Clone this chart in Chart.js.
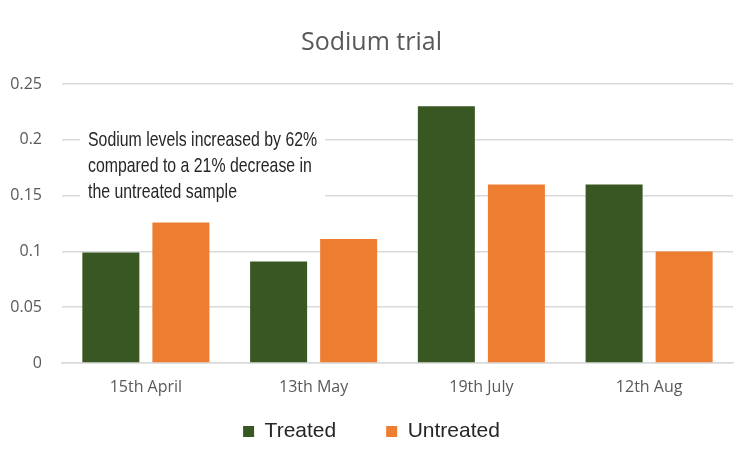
<!DOCTYPE html>
<html lang="en">
  <head>
    <meta charset="UTF-8" />
    <title>Sodium trial</title>
    <style>
      html, body { margin: 0; padding: 0; background: #fff; }
      .wrap { width: 745px; height: 456px; }
    </style>
  </head>
  <body>
    <div class="wrap"><canvas id="mychart"></canvas></div>

    <script src="https://cdn.jsdelivr.net/npm/chart.js@4/dist/chart.umd.min.js"></script>
    <script>
      // data
      const dates = ["15th April", "13th May", "19th July", "12th Aug"];
      const treated = [0.099, 0.091, 0.23, 0.16];
      const untreated = [0.126, 0.111, 0.16, 0.1];
      const note = ["Sodium levels increased by 62%", "compared to a 21% decrease in", "the untreated sample"];

      // text box drawn over the grid (white fill hides the gridlines behind it)
      const notePlugin = {
        id: "note",
        afterDatasetsDraw(chart) {
          const ctx = chart.ctx;
          const x = chart.scales.x;
          const y = chart.scales.y;
          const left = x.left + 26;
          const top = y.getPixelForValue(0.2) - 10;
          ctx.save();
          ctx.fillStyle = "#fff";
          ctx.fillRect(left - 8, top - 5, 245, 83);
          ctx.fillStyle = "#262626";
          ctx.font = "21px 'Liberation Sans', Arial, sans-serif";
          ctx.textBaseline = "top";
          ctx.translate(left, top);
          ctx.scale(0.755, 1);
          note.forEach((t, i) => ctx.fillText(t, 0, i * 26));
          ctx.restore();
        },
      };

      new Chart(document.getElementById("mychart"), {
        type: "bar",
        data: {
          labels: dates,
          datasets: [
            { label: "Treated", data: treated, backgroundColor: "#385723" },
            { label: "Untreated", data: untreated, backgroundColor: "#ed7d31" },
          ],
        },
        options: {
          responsive: true,
          maintainAspectRatio: false,
          animation: false,
          categoryPercentage: 0.835,
          barPercentage: 0.814,
          layout: { padding: { left: 10, right: 12, top: 0, bottom: 4 } },
          plugins: {
            title: {
              display: true,
              text: "Sodium trial",
              color: "#595959",
              font: { family: "'Open Sans', sans-serif", size: 25, weight: "normal" },
              padding: { top: 28, bottom: 26 },
            },
            legend: {
              position: "bottom",
              labels: {
                color: "#262626",
                font: { family: "'Liberation Sans', Arial, sans-serif", size: 21 },
                boxWidth: 11,
                boxHeight: 11,
                padding: 15,
                generateLabels(chart) {
                  const items = Chart.defaults.plugins.legend.labels.generateLabels(chart);
                  items[0].text = items[0].text + "      ";
                  return items;
                },
              },
            },
            tooltip: { enabled: false },
          },
          scales: {
            x: {
              grid: { display: false },
              border: { color: "#d9d9d9", width: 1.5 },
              ticks: { color: "#595959", font: { family: "'Open Sans', sans-serif", size: 16 }, padding: 7 },
              afterFit(scale) {
                scale.height = 43;
              },
            },
            y: {
              min: 0,
              max: 0.25,
              ticks: {
                stepSize: 0.05,
                color: "#595959",
                font: { family: "'Open Sans', sans-serif", size: 16 },
                padding: 20,
                callback: (v) => String(+v.toFixed(2)),
              },
              grid: { color: "#d9d9d9", lineWidth: 1.5, drawTicks: false },
              border: { display: false },
              afterFit(scale) {
                scale.width = 52;
              },
            },
          },
        },
        plugins: [notePlugin],
      });
    </script>
  </body>
</html>
